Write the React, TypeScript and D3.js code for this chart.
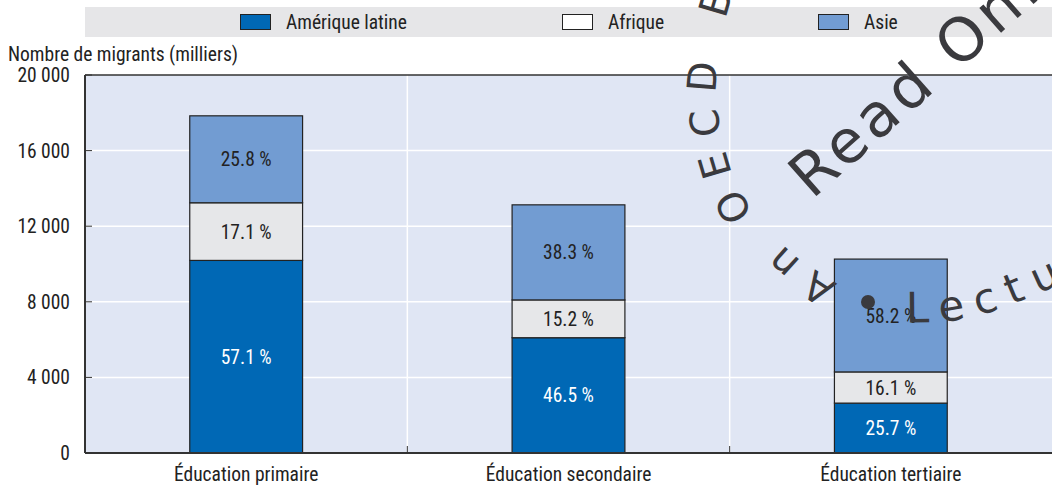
import React, { useEffect } from "react";
import * as d3 from "d3";

const categories = ["Éducation primaire", "Éducation secondaire", "Éducation tertiaire"];
const seriesNames = ["Amérique latine", "Afrique", "Asie"];
// milliers de migrants
const ameriqueLatine = [10190, 6100, 2640];
const afrique = [3050, 2000, 1650];
const asie = [4600, 5030, 5970];
const labelsLatine = ["57.1 %", "46.5 %", "25.7 %"];
const labelsAfrique = ["17.1 %", "15.2 %", "16.1 %"];
const labelsAsie = ["25.8 %", "38.3 %", "58.2 %"];
const yTicks = [0, 4000, 8000, 12000, 16000, 20000];

const colors = ["#0068b5", "#e6e7e9", "#729cd2"];
const swatchColors = ["#0068b5", "#ffffff", "#729cd2"];
const textColors = ["#ffffff", "#222222", "#222222"];

const W = 1052;
const H = 486;
const margin = { top: 75, right: 0, bottom: 33, left: 85 };
const font = "'Roboto Condensed', 'Liberation Sans Narrow', sans-serif";
const fs = 19.5;
const fmt = (v: number) => d3.format(",")(v).replace(/,/g, " ");

const App = () => {
  useEffect(() => {
    document.body.style.margin = "0";
  }, []);

  const x = d3
    .scaleBand<string>()
    .domain(categories)
    .range([margin.left, W - margin.right])
    .paddingInner(0);
  const y = d3
    .scaleLinear()
    .domain([0, 20000])
    .range([H - margin.bottom, margin.top]);

  const rows = categories.map((c, i) => ({
    cat: c,
    s0: ameriqueLatine[i],
    s1: afrique[i],
    s2: asie[i],
  }));
  const stack = d3.stack<any>().keys(["s0", "s1", "s2"])(rows);
  const labels = [labelsLatine, labelsAfrique, labelsAsie];

  const bw = x.bandwidth() * 0.35;
  const legendX = [240, 562, 818];

  // watermark paths (decorative)
  const wm1 = d3.line().curve(d3.curveCatmullRom)([
    [856, 310], [821, 290], [779, 260], [742, 220], [719, 176], [706, 128], [703, 73], [713, 13], [731, -47],
  ] as [number, number][]);
  const wm2 = d3.line()([[812, 200], [1100, -55]] as [number, number][]);
  const wm3 = d3.line().curve(d3.curveCatmullRom)([
    [898, 322], [950, 321], [1000, 309], [1060, 284],
  ] as [number, number][]);

  return (
    <svg width={W} height={H} style={{ display: "block", fontFamily: font }}>
      <rect width={W} height={H} fill="#ffffff" />
      {/* legend */}
      <rect x={margin.left} y={7} width={W - margin.left} height={30} fill="#e6e6e8" />
      {seriesNames.map((n, i) => (
        <g key={n}>
          <rect x={legendX[i] + 0.5} y={14.5} width={30} height={15} fill={swatchColors[i]} stroke="#222" strokeWidth={1} />
          <text x={legendX[i] + 46} y={29} fontSize={fs} fill="#222">
            {n}
          </text>
        </g>
      ))}
      <text x={8} y={61} fontSize={fs} fill="#222">
        Nombre de migrants (milliers)
      </text>
      {/* plot area */}
      <rect
        x={margin.left}
        y={margin.top}
        width={W - margin.left - margin.right}
        height={H - margin.top - margin.bottom}
        fill="#e0e6f4"
      />
      {yTicks.slice(1, -1).map((t) => (
        <line key={t} x1={margin.left} x2={W} y1={y(t)} y2={y(t)} stroke="#ffffff" strokeWidth={1.5} />
      ))}
      {categories.slice(1).map((c) => (
        <line key={c} x1={x(c)!} x2={x(c)!} y1={margin.top} y2={H - margin.bottom} stroke="#ffffff" strokeWidth={1.5} />
      ))}
      {stack.map((layer, k) =>
        layer.map((d, i) => (
          <g key={k + "-" + i}>
            <rect
              x={x(categories[i])! + (x.bandwidth() - bw) / 2}
              y={y(d[1])}
              width={bw}
              height={y(d[0]) - y(d[1])}
              fill={colors[k]}
              stroke="#222"
              strokeWidth={1.2}
            />
            <text
              x={x(categories[i])! + x.bandwidth() / 2}
              y={(y(d[0]) + y(d[1])) / 2 + 7}
              textAnchor="middle"
              fontSize={fs}
              fill={textColors[k]}
            >
              {labels[k][i]}
            </text>
          </g>
        ))
      )}
      {/* axes */}
      <line x1={margin.left} x2={W} y1={margin.top} y2={margin.top} stroke="#333" strokeWidth={1.5} />
      <line x1={margin.left} x2={margin.left} y1={margin.top} y2={H - margin.bottom} stroke="#333" strokeWidth={2} />
      <line x1={margin.left} x2={W} y1={H - margin.bottom} y2={H - margin.bottom} stroke="#333" strokeWidth={2} />
      {yTicks.map((t) => (
        <g key={t}>
          <line x1={margin.left} x2={margin.left + 7} y1={y(t)} y2={y(t)} stroke="#333" strokeWidth={1} />
          <text x={70} y={y(t) + 7} textAnchor="end" fontSize={fs} fill="#222">
            {fmt(t)}
          </text>
        </g>
      ))}
      {categories.slice(1).map((c) => (
        <line key={c} x1={x(c)!} x2={x(c)!} y1={H - margin.bottom - 7} y2={H - margin.bottom} stroke="#333" strokeWidth={1} />
      ))}
      {categories.map((c) => (
        <text key={c} x={x(c)! + x.bandwidth() / 2} y={481} textAnchor="middle" fontSize={fs} fill="#222">
          {c}
        </text>
      ))}
      {/* watermark */}
      <defs>
        <path id="wm1" d={wm1!} />
        <path id="wm2" d={wm2!} />
        <path id="wm3" d={wm3!} />
      </defs>
      <g fill="#3a3a3e" fontFamily="'DejaVu Sans', sans-serif">
        <text fontSize={40} letterSpacing={17} dominantBaseline="central">
          <textPath href="#wm1" startOffset={30}>An OECD Book</textPath>
        </text>
        <text fontSize={60} letterSpacing={5}>
          <textPath href="#wm2" startOffset={0}>
            Read Online
          </textPath>
        </text>
        <text fontSize={42} letterSpacing={12}>
          <textPath href="#wm3" startOffset={8}>Lecture</textPath>
        </text>
        <circle cx={868} cy={302} r={7} />
      </g>
    </svg>
  );
};

export default App;
